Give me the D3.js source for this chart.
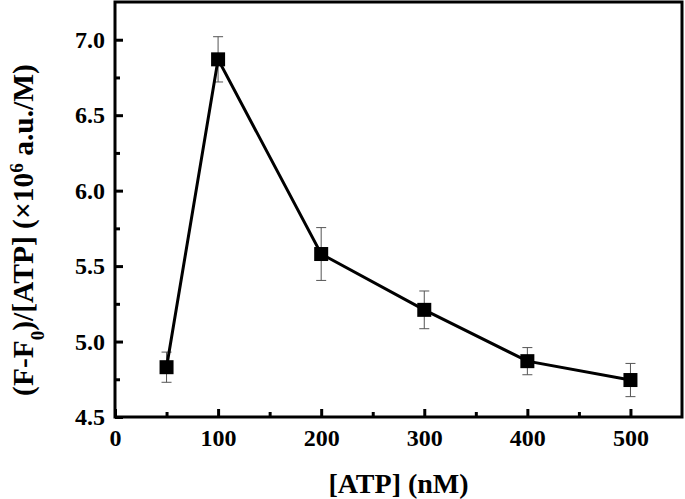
<!DOCTYPE html>
<html><head><meta charset="utf-8">
<script src="https://cdn.jsdelivr.net/npm/d3@7"></script>
<style>body{margin:0;background:#fff}</style>
</head><body>
<svg id="c" width="685" height="499"></svg>
<script>
const xVals = [50, 100, 200, 300, 400, 500];
const yVals = [4.83, 6.87, 5.58, 5.21, 4.87, 4.745];
const yErr = [0.10, 0.15, 0.175, 0.125, 0.09, 0.11];
const xTicks = [0, 100, 200, 300, 400, 500];
const yTicks = [4.5, 5.0, 5.5, 6.0, 6.5, 7.0];

const svg = d3.select("#c");
const L = 115, R = 682, T = 2, B = 417;
const x = d3.scaleLinear().domain([0, 550]).range([L, R]);
const y = d3.scaleLinear().domain([4.5, 7.25]).range([B, T]);
const font = "'Liberation Serif', 'Times New Roman', serif";

// frame
svg.append("rect").attr("x", L).attr("y", T).attr("width", R - L).attr("height", B - T)
  .attr("fill", "none").attr("stroke", "#000").attr("stroke-width", 3);

// x axis
const xAxis = d3.axisBottom(x).tickValues(xTicks).tickSize(-8).tickPadding(12).tickFormat(d3.format("d"));
const gx = svg.append("g").attr("transform", `translate(0,${B})`).call(xAxis);
gx.select(".domain").remove();
gx.selectAll(".tick line").attr("stroke-width", 3);
gx.selectAll("text").attr("font-family", font).attr("font-weight", "bold").attr("font-size", 24).attr("fill", "#000");
const gxm = svg.append("g").attr("transform", `translate(0,${B})`)
  .call(d3.axisBottom(x).tickValues([50,150,250,350,450]).tickSize(-5).tickFormat(""));
gxm.select(".domain").remove();
gxm.selectAll(".tick line").attr("stroke-width", 3);

// y axis
const yAxis = d3.axisLeft(y).tickValues(yTicks).tickSize(-8).tickPadding(10).tickFormat(d3.format(".1f"));
const gy = svg.append("g").attr("transform", `translate(${L},0)`).call(yAxis);
gy.select(".domain").remove();
gy.selectAll(".tick line").attr("stroke-width", 3);
gy.selectAll("text").attr("font-family", font).attr("font-weight", "bold").attr("font-size", 24).attr("fill", "#000");
const gym = svg.append("g").attr("transform", `translate(${L},0)`)
  .call(d3.axisLeft(y).tickValues([4.75,5.25,5.75,6.25,6.75]).tickSize(-5).tickFormat(""));
gym.select(".domain").remove();
gym.selectAll(".tick line").attr("stroke-width", 3);

// error bars
const data = xVals.map((v, i) => ({x: v, y: yVals[i], e: yErr[i]}));
const eb = svg.append("g").attr("stroke", "#555").attr("stroke-width", 1);
data.forEach(d => {
  eb.append("line").attr("x1", x(d.x)).attr("x2", x(d.x)).attr("y1", y(d.y + d.e)).attr("y2", y(d.y - d.e));
  eb.append("line").attr("x1", x(d.x) - 5).attr("x2", x(d.x) + 5).attr("y1", y(d.y + d.e)).attr("y2", y(d.y + d.e));
  eb.append("line").attr("x1", x(d.x) - 5).attr("x2", x(d.x) + 5).attr("y1", y(d.y - d.e)).attr("y2", y(d.y - d.e));
});

// line
svg.append("path").datum(data)
  .attr("d", d3.line().x(d => x(d.x)).y(d => y(d.y)))
  .attr("fill", "none").attr("stroke", "#000").attr("stroke-width", 3);

// markers
const s = 14;
svg.append("g").selectAll("rect").data(data).join("rect")
  .attr("x", d => x(d.x) - s / 2).attr("y", d => y(d.y) - s / 2)
  .attr("width", s).attr("height", s).attr("fill", "#000");

// x title
svg.append("text").attr("x", (L + R) / 2).attr("y", 493).attr("text-anchor", "middle")
  .attr("font-family", font).attr("font-weight", "bold").attr("font-size", 28).text("[ATP] (nM)");

// y title
const yt = svg.append("text").attr("transform", "translate(33,230) rotate(-90)").attr("text-anchor", "middle")
  .attr("font-family", font).attr("font-weight", "bold").attr("font-size", 29.5);
yt.append("tspan").text("(F-F");
yt.append("tspan").attr("baseline-shift", "sub").attr("font-size", 19).text("0");
yt.append("tspan").text(")/[ATP] (×10");
yt.append("tspan").attr("baseline-shift", "super").attr("font-size", 19).text("6");
yt.append("tspan").text(" a.u./M)");
</script>
</body></html>
